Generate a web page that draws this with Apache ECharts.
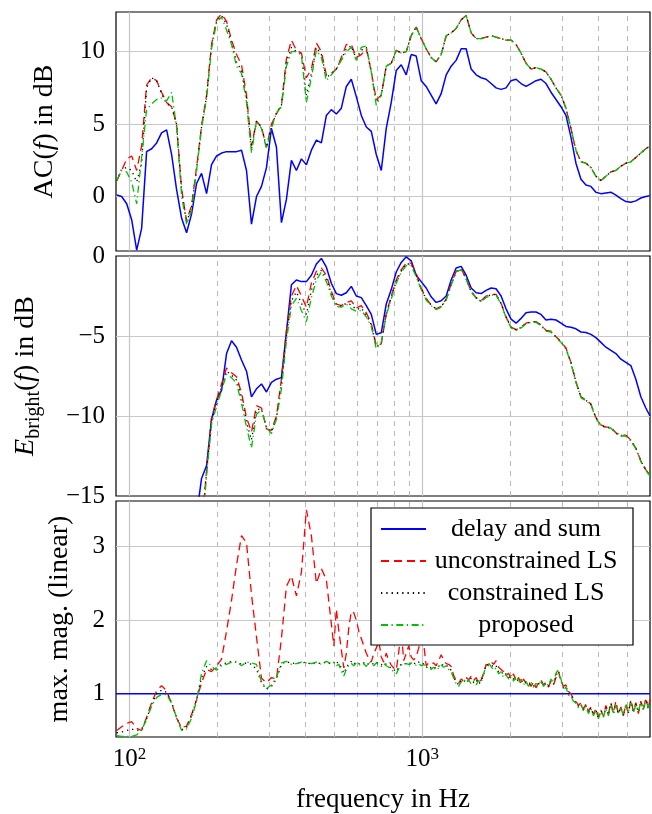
<!DOCTYPE html>
<html>
<head>
<meta charset="utf-8">
<script src="https://cdn.jsdelivr.net/npm/echarts@6.0.0/dist/echarts.min.js"></script>
<style>
html, body { margin: 0; padding: 0; background: #fff; }
#chart { width: 652px; height: 814px; }
</style>
</head>
<body>
<div id="chart"></div>
<script>
// frequency grid (Hz) shared by the AC and E_bright panels
var freq = [90.5, 94.1, 97.9, 101.8, 105.9, 110.1, 114.5, 119.1, 123.9, 128.8,
  134.0, 139.4, 144.9, 150.8, 156.8, 163.1, 169.6, 176.4, 183.5, 190.8,
  198.5, 206.4, 214.7, 223.3, 232.2, 241.5, 251.2, 261.2, 271.7, 282.6,
  293.9, 305.6, 317.9, 330.6, 343.8, 357.6, 371.9, 386.8, 402.3, 418.4,
  435.1, 452.6, 470.7, 489.5, 509.1, 529.5, 550.7, 572.8, 595.7, 619.6,
  644.4, 670.2, 697.0, 724.9, 753.9, 784.1, 815.5, 848.1, 882.1, 917.4,
  954.1, 992.3, 1032, 1073, 1116, 1161, 1208, 1256, 1306, 1359,
  1413, 1470, 1529, 1590, 1653, 1720, 1788, 1860, 1934, 2012,
  2093, 2176, 2263, 2354, 2448, 2546, 2648, 2754, 2865, 2979,
  3098, 3222, 3351, 3486, 3625, 3770, 3921, 4078, 4242, 4411,
  4588, 4772, 4963, 5161, 5368, 5583, 5806, 6000];

// panel 1: AC(f) in dB
var acDelaySum = [0.1, 0.0, -0.5, -1.6, -3.7, -2.2, 3.1, 3.3, 3.7, 4.4,
  4.6, 2.9, 0.5, -1.5, -2.5, -1.2, 0.9, 1.6, 0.2, 2.2,
  2.8, 3.0, 3.1, 3.1, 3.1, 3.2, 1.8, -1.9, 0.0, 0.7,
  2.0, 4.7, 3.4, -1.8, -0.2, 2.5, 1.8, 2.6, 2.2, 3.2,
  3.9, 3.7, 5.6, 6.0, 5.7, 6.1, 7.6, 8.1, 6.9, 5.6,
  4.8, 4.5, 2.9, 1.8, 4.7, 6.5, 8.7, 9.1, 8.4, 9.8,
  9.7, 8.0, 7.6, 7.0, 6.4, 7.1, 8.4, 9.0, 9.4, 10.2,
  10.2, 8.8, 8.4, 8.2, 8.1, 7.8, 7.5, 7.4, 7.5, 8.0,
  8.1, 7.8, 7.6, 7.8, 8.0, 8.1, 7.8, 7.2, 6.7, 6.2,
  5.6, 4.1, 2.3, 1.2, 0.8, 0.7, 0.3, 0.2, 0.25, 0.3,
  0.1, -0.15, -0.35, -0.4, -0.3, -0.1, 0.0, 0.05];
var acUnconstrained = [1.1, 1.8, 2.6, 2.8, 1.8, 3.5, 7.7, 8.2, 8.0, 7.2,
  6.5, 6.2, 5.0, 0.5, -1.7, -0.6, 2.0, 4.9, 7.0, 10.5,
  12.2, 12.6, 12.1, 10.8, 9.8, 9.1, 7.0, 3.5, 5.2, 4.8,
  3.4, 5.0, 5.7, 6.3, 9.5, 10.8, 10.1, 9.9, 8.2, 8.8,
  10.6, 10.0, 8.4, 8.5, 8.8, 9.6, 10.5, 10.5, 9.6, 9.8,
  10.2, 8.6, 6.7, 7.0, 9.0, 9.2, 10.1, 9.9, 10.0, 11.1,
  11.7, 10.9, 10.2, 9.6, 9.3, 9.8, 11.1, 11.3, 11.6, 12.2,
  12.5, 11.3, 10.9, 10.9, 11.0, 11.1, 11.0, 10.9, 10.8, 10.8,
  10.5, 9.9, 9.2, 8.8, 8.9, 8.8, 8.6, 8.1, 7.5, 7.0,
  6.1, 4.7, 3.2, 2.4, 2.3, 2.0, 1.4, 1.1, 1.4, 1.7,
  1.8, 2.1, 2.3, 2.4, 2.7, 3.0, 3.3, 3.5];
var acConstrained = [1.1, 1.9, 2.0, 1.8, 1.0, 2.3, 7.5, 8.2, 8.0, 7.1,
  6.4, 6.2, 5.0, 0.4, -1.8, -0.7, 1.9, 4.8, 6.9, 10.4,
  12.1, 12.5, 11.9, 10.6, 9.3, 8.7, 6.8, 3.3, 5.2, 4.8,
  3.4, 4.8, 5.8, 6.3, 9.3, 10.3, 10.0, 9.8, 7.0, 8.5,
  10.3, 9.8, 8.2, 8.5, 8.8, 9.5, 10.2, 10.4, 9.5, 10.1,
  10.3, 8.6, 6.5, 7.0, 9.0, 9.2, 10.1, 9.9, 10.0, 11.1,
  11.7, 10.9, 10.2, 9.6, 9.3, 9.8, 11.1, 11.3, 11.6, 12.2,
  12.5, 11.3, 10.9, 10.9, 11.0, 11.1, 11.0, 10.9, 10.8, 10.8,
  10.5, 9.9, 9.2, 8.8, 8.9, 8.8, 8.6, 8.1, 7.5, 7.0,
  6.1, 4.7, 3.2, 2.4, 2.3, 2.0, 1.4, 1.1, 1.4, 1.7,
  1.8, 2.1, 2.3, 2.4, 2.7, 3.0, 3.3, 3.5];
var acProposed = [1.1, 1.8, 1.7, 1.0, -0.5, 2.7, 6.0, 6.4, 6.7, 6.8,
  6.6, 7.2, 4.8, 0.0, -1.9, -1.0, 1.8, 4.7, 6.8, 10.2,
  12.0, 12.4, 11.5, 10.5, 9.0, 8.5, 6.5, 3.0, 5.2, 4.7,
  3.3, 4.7, 5.8, 6.2, 9.0, 10.0, 10.0, 9.8, 6.5, 8.2,
  10.1, 9.6, 8.0, 8.4, 8.8, 9.4, 10.0, 10.3, 9.4, 10.3,
  10.4, 8.6, 6.3, 7.0, 9.0, 9.2, 10.1, 9.9, 10.0, 11.1,
  11.7, 10.9, 10.2, 9.6, 9.3, 9.8, 11.1, 11.3, 11.6, 12.2,
  12.5, 11.3, 10.9, 10.9, 11.0, 11.1, 11.0, 10.9, 10.8, 10.8,
  10.5, 9.9, 9.2, 8.8, 8.9, 8.8, 8.6, 8.1, 7.5, 7.0,
  6.1, 4.7, 3.2, 2.4, 2.3, 2.0, 1.4, 1.1, 1.4, 1.7,
  1.8, 2.1, 2.3, 2.4, 2.7, 3.0, 3.3, 3.5];

// panel 2: E_bright(f) in dB (null = below the plotted range)
var ebDelaySum = [null, null, null, null, null, null, null, null, null, null,
  null, null, null, null, null, null, -16.2, -13.9, -13.1, -10.2,
  -9.0, -8.4, -6.1, -5.3, -5.7, -6.5, -7.2, -8.8, -8.3, -8.0,
  -8.5, -7.9, -7.7, -7.6, -4.75, -1.8, -1.5, -1.6, -1.6, -1.2,
  -0.5, -0.15, -0.7, -1.7, -2.35, -2.45, -2.3, -1.9, -2.5, -2.6,
  -3.1, -3.65, -4.9, -4.8, -3.0, -2.1, -1.0, -0.4, -0.05, -0.3,
  -1.2, -1.6, -2.0, -2.55, -2.9, -2.8, -2.5, -1.5, -0.75, -0.65,
  -1.2, -2.0, -2.3, -2.35, -2.15, -2.0, -2.05, -2.5, -3.3, -3.95,
  -4.2, -3.9, -3.55, -3.5, -3.5, -3.65, -4.0, -3.95, -4.0, -4.2,
  -4.4, -4.45, -4.55, -4.75, -4.78, -4.9, -5.1, -5.4, -5.7, -5.9,
  -6.1, -6.45, -6.65, -6.85, -7.7, -8.8, -9.5, -10.0];
var ebUnconstrained = [null, null, null, null, null, null, null, null, null, null,
  null, null, null, null, null, null, null, -17.0, -13.4, -10.1,
  -9.0, -8.0, -7.0, -7.3, -7.55, -8.55, -10.1, -11.0, -9.35, -9.5,
  -10.8, -10.9, -10.0, -7.7, -4.7, -2.5, -1.85, -2.5, -3.2, -1.7,
  -0.95, -0.75, -1.2, -2.2, -3.0, -3.1, -2.9, -2.8, -3.25, -3.1,
  -3.55, -4.2, -5.6, -5.5, -3.6, -2.5, -1.5, -0.85, -0.45, -0.45,
  -1.1, -2.0, -2.65, -3.05, -3.3, -3.15, -2.7, -1.75, -0.95, -0.8,
  -1.4, -2.2, -2.6, -2.8, -2.5, -2.4, -2.4, -2.95, -3.8, -4.45,
  -4.6, -4.45, -4.2, -4.1, -4.1, -4.3, -4.65, -4.7, -5.05, -5.35,
  -5.75, -6.65, -7.85, -8.8, -9.0, -9.25, -10.1, -10.55, -10.7, -10.7,
  -11.05, -11.2, -11.2, -11.5, -12.0, -12.8, -13.35, -13.7];
var ebConstrained = [null, null, null, null, null, null, null, null, null, null,
  null, null, null, null, null, null, null, -17.2, -13.5, -10.3,
  -9.2, -8.2, -7.2, -7.45, -7.75, -8.85, -10.4, -11.5, -9.6, -9.55,
  -10.75, -11.0, -10.1, -8.0, -5.0, -2.8, -2.25, -2.95, -3.65, -2.15,
  -1.2, -0.9, -1.4, -2.35, -3.05, -3.15, -2.95, -3.05, -3.35, -3.25,
  -3.7, -4.3, -5.7, -5.45, -3.65, -2.6, -1.6, -0.95, -0.5, -0.5,
  -1.2, -2.05, -2.7, -3.07, -3.32, -3.17, -2.72, -1.8, -0.97, -0.82,
  -1.42, -2.22, -2.62, -2.82, -2.55, -2.42, -2.42, -2.97, -3.82, -4.47,
  -4.62, -4.47, -4.22, -4.12, -4.12, -4.32, -4.67, -4.72, -5.07, -5.37,
  -5.77, -6.67, -7.87, -8.82, -9.02, -9.27, -10.12, -10.57, -10.72, -10.72,
  -11.07, -11.22, -11.22, -11.52, -12.02, -12.82, -13.37, -13.72];
var ebProposed = [null, null, null, null, null, null, null, null, null, null,
  null, null, null, null, null, null, null, -17.5, -13.7, -10.5,
  -9.4, -8.4, -7.4, -7.6, -7.95, -9.2, -10.7, -12.0, -9.9, -9.6,
  -10.7, -11.1, -10.2, -8.3, -5.3, -3.1, -2.65, -3.4, -4.1, -2.6,
  -1.5, -1.0, -1.6, -2.5, -3.15, -3.2, -3.0, -3.3, -3.45, -3.4,
  -3.8, -4.4, -5.8, -5.4, -3.7, -2.7, -1.7, -1.0, -0.6, -0.6,
  -1.3, -2.1, -2.75, -3.1, -3.35, -3.2, -2.75, -1.85, -1.0, -0.85,
  -1.45, -2.25, -2.65, -2.85, -2.6, -2.45, -2.45, -3.0, -3.85, -4.5,
  -4.65, -4.5, -4.25, -4.15, -4.15, -4.35, -4.7, -4.75, -5.1, -5.4,
  -5.8, -6.7, -7.9, -8.85, -9.05, -9.3, -10.15, -10.6, -10.75, -10.75,
  -11.1, -11.25, -11.25, -11.55, -12.05, -12.85, -13.4, -13.75];

// panel 3: max. magnitude (linear), finer grid above ~490 Hz
var freq3 = [90.5, 94.1, 97.9, 101.8, 105.9, 110.1, 114.5, 119.1, 123.9, 128.8,
  134.0, 139.4, 144.9, 150.8, 156.8, 163.1, 169.6, 176.4, 183.5, 190.8,
  198.5, 206.4, 214.7, 223.3, 232.2, 241.5, 251.2, 261.2, 271.7, 282.6,
  293.9, 305.6, 317.9, 330.6, 343.8, 357.6, 371.9, 386.8, 402.3, 418.4,
  435.1, 452.6, 470.7,
  489.5, 499.2, 509.1, 519.2, 529.5, 540.0, 550.7, 561.6, 572.8, 584.1,
  595.7, 607.5, 619.6, 631.9, 644.4, 657.2, 670.2, 683.5, 697.0, 710.9,
  724.9, 739.3, 753.9, 768.9, 784.1, 799.7, 815.5, 831.7, 848.1, 865.0,
  882.1, 899.6, 917.4, 935.6, 954.1, 973.0, 992.3, 1012, 1032, 1052,
  1073, 1094, 1116, 1138, 1161, 1184, 1208, 1232, 1256, 1281,
  1306, 1332, 1359, 1386, 1413, 1441, 1470, 1499, 1529, 1559,
  1590, 1621, 1653, 1686, 1720, 1754, 1788, 1824, 1860, 1897,
  1934, 1973, 2012, 2052, 2093, 2134, 2176, 2219, 2263, 2308,
  2354, 2401, 2448, 2497, 2546, 2597, 2648, 2701, 2754, 2809,
  2865, 2922, 2979, 3038, 3098, 3160, 3222, 3286, 3351, 3418,
  3486, 3555, 3625, 3697, 3770, 3845, 3921, 3999, 4078, 4159,
  4242, 4326, 4411, 4499, 4588, 4679, 4772, 4867, 4963, 5062,
  5161, 5264, 5368, 5475, 5583, 5694, 5806, 5922, 6000];
var mmUnconstrained = [0.50, 0.55, 0.60, 0.62, 0.53, 0.50, 0.68, 0.88, 1.04, 1.11,
  1.04, 0.87, 0.67, 0.54, 0.56, 0.72, 0.92, 1.15, 1.33, 1.30,
  1.38, 1.47, 1.85, 2.27, 2.75, 3.15, 3.05, 2.35, 1.77, 1.21,
  1.15, 1.22, 1.20, 1.75, 2.46, 2.60, 2.33, 2.65, 3.50, 3.15,
  2.50, 2.70, 2.55,
  1.95, 1.65, 2.15, 1.85, 1.60, 1.35, 1.55, 1.90, 2.12, 2.10,
  2.00, 1.85, 1.75, 1.65, 1.55, 1.48, 1.43, 1.55, 1.62, 1.72,
  1.50, 1.43, 1.55, 1.45, 1.39, 1.35, 1.32, 1.57, 1.85, 1.45,
  1.55, 1.65, 1.50, 1.46, 1.50, 1.62, 1.75, 1.68, 1.38, 1.42,
  1.40, 1.42, 1.38, 1.45, 1.53, 1.46, 1.41, 1.40, 1.37, 1.25,
  1.18, 1.14, 1.20, 1.17, 1.22, 1.19, 1.24, 1.18, 1.22, 1.14,
  1.19, 1.28, 1.40, 1.38, 1.43, 1.40, 1.45, 1.36, 1.33, 1.30,
  1.25, 1.28, 1.20, 1.27, 1.16, 1.22, 1.13, 1.20, 1.14, 1.18,
  1.10, 1.16, 1.08, 1.15, 1.19, 1.12, 1.16, 1.09, 1.17, 1.12,
  1.22, 1.30, 1.18, 1.10, 1.12, 1.03, 1.00, 0.93, 0.90, 0.84,
  0.88, 0.79, 0.86, 0.76, 0.82, 0.72, 0.80, 0.68, 0.78, 0.70,
  0.84, 0.72, 0.88, 0.74, 0.90, 0.72, 0.82, 0.70, 0.86, 0.74,
  0.92, 0.76, 0.88, 0.73, 0.90, 0.78, 0.94, 0.80, 0.92];
var mmConstrained = [0.47, 0.48, 0.50, 0.52, 0.50, 0.52, 0.66, 0.86, 1.00, 1.05,
  1.02, 0.88, 0.68, 0.51, 0.54, 0.70, 0.92, 1.22, 1.37, 1.33,
  1.35, 1.40, 1.42, 1.44, 1.43, 1.40, 1.42, 1.40, 1.33, 1.15,
  1.06, 1.10, 1.20, 1.40, 1.44, 1.41, 1.42, 1.42, 1.43, 1.40,
  1.42, 1.41, 1.43,
  1.40, 1.42, 1.45, 1.39, 1.36, 1.28, 1.35, 1.41, 1.44, 1.40,
  1.43, 1.41, 1.40, 1.42, 1.39, 1.41, 1.42, 1.40, 1.43, 1.41,
  1.39, 1.42, 1.40, 1.37, 1.35, 1.33, 1.30, 1.37, 1.40, 1.39,
  1.42, 1.41, 1.40, 1.42, 1.40, 1.43, 1.40, 1.41, 1.36, 1.38,
  1.35, 1.37, 1.34, 1.37, 1.41, 1.38, 1.39, 1.35, 1.32, 1.22,
  1.16, 1.12, 1.18, 1.16, 1.20, 1.16, 1.21, 1.15, 1.19, 1.13,
  1.17, 1.26, 1.39, 1.40, 1.40, 1.36, 1.38, 1.30, 1.31, 1.25,
  1.27, 1.22, 1.23, 1.20, 1.21, 1.17, 1.18, 1.14, 1.16, 1.12,
  1.14, 1.11, 1.12, 1.13, 1.17, 1.11, 1.14, 1.10, 1.18, 1.13,
  1.25, 1.31, 1.19, 1.08, 1.10, 1.00, 0.98, 0.92, 0.88, 0.83,
  0.86, 0.78, 0.84, 0.75, 0.81, 0.71, 0.78, 0.67, 0.77, 0.69,
  0.82, 0.71, 0.87, 0.73, 0.86, 0.73, 0.81, 0.70, 0.85, 0.74,
  0.90, 0.75, 0.86, 0.75, 0.89, 0.78, 0.93, 0.80, 0.91];
var mmProposed = [0.43, 0.42, 0.42, 0.42, 0.44, 0.51, 0.65, 0.83, 0.95, 0.99,
  0.99, 0.87, 0.68, 0.50, 0.52, 0.67, 0.90, 1.28, 1.45, 1.37,
  1.32, 1.38, 1.40, 1.43, 1.44, 1.38, 1.43, 1.42, 1.40, 1.16,
  1.07, 1.12, 1.22, 1.42, 1.44, 1.40, 1.41, 1.43, 1.42, 1.41,
  1.43, 1.40, 1.44,
  1.41, 1.43, 1.38, 1.40, 1.31, 1.24, 1.33, 1.39, 1.41, 1.38,
  1.42, 1.40, 1.38, 1.41, 1.37, 1.43, 1.40, 1.38, 1.42, 1.39,
  1.37, 1.41, 1.38, 1.36, 1.33, 1.30, 1.27, 1.34, 1.39, 1.40,
  1.41, 1.40, 1.42, 1.40, 1.39, 1.41, 1.38, 1.40, 1.35, 1.37,
  1.33, 1.36, 1.32, 1.35, 1.39, 1.36, 1.38, 1.33, 1.30, 1.21,
  1.14, 1.10, 1.16, 1.20, 1.15, 1.19, 1.13, 1.17, 1.12, 1.18,
  1.15, 1.27, 1.38, 1.42, 1.37, 1.32, 1.35, 1.27, 1.30, 1.22,
  1.26, 1.20, 1.25, 1.17, 1.24, 1.15, 1.20, 1.12, 1.17, 1.10,
  1.16, 1.09, 1.14, 1.12, 1.18, 1.10, 1.15, 1.11, 1.20, 1.15,
  1.28, 1.33, 1.20, 1.05, 1.09, 0.98, 0.96, 0.90, 0.87, 0.81,
  0.85, 0.77, 0.83, 0.73, 0.80, 0.70, 0.77, 0.66, 0.76, 0.68,
  0.80, 0.70, 0.86, 0.72, 0.84, 0.74, 0.80, 0.71, 0.84, 0.75,
  0.88, 0.74, 0.85, 0.76, 0.88, 0.79, 0.92, 0.81, 0.90];
var freqFlat = [90, 6000];
var mmDelaySum = [1, 1];

// axis ticks / grid positions
var majorFreqs = [100, 1000];
var minorFreqs = [200, 300, 400, 500, 600, 700, 800, 900, 2000, 3000, 4000, 5000];
var acTicks = [0, 5, 10];
var ebTicks = [-15, -10, -5, 0];
var mmTicks = [1, 2, 3];

var names = ['delay and sum', 'unconstrained LS', 'constrained LS', 'proposed'];
var FONT = 'Liberation Serif';
var styles = [
  {color: '#0000ff', width: 1.5, type: 'solid'},
  {color: '#ff0000', width: 1.3, type: [8, 5]},
  {color: '#000000', width: 1.3, type: [1.3, 4]},
  {color: '#00c000', width: 1.3, type: [7, 3.5, 1.3, 3.5]}
];

function pairs(xs, ys) {
  return xs.map(function (x, i) { return [x, ys[i]]; });
}

function line(k, panel, xs, ys) {
  return {
    name: names[k], type: 'line', xAxisIndex: panel, yAxisIndex: panel,
    symbol: 'none', z: 10 + k, animation: false, connectNulls: false,
    lineStyle: styles[k], itemStyle: {color: styles[k].color},
    data: pairs(xs, ys)
  };
}

function gridLines(panel, hVals) {
  var d = [];
  majorFreqs.forEach(function (f) {
    d.push({xAxis: f, lineStyle: {color: '#c4c4c4', width: 1.2, type: 'solid'}});
  });
  minorFreqs.forEach(function (f) {
    d.push({xAxis: f, lineStyle: {color: '#b8b8b8', width: 1, type: [5, 5]}});
  });
  hVals.forEach(function (v) {
    d.push({yAxis: v, lineStyle: {color: '#c8c8c8', width: 1, type: 'solid'}});
  });
  return {
    type: 'line', xAxisIndex: panel, yAxisIndex: panel, data: [], z: 1, silent: true,
    markLine: {silent: true, symbol: ['none', 'none'], z: 1, animation: false,
      label: {show: false}, emphasis: {disabled: true}, data: d}
  };
}

var labelStyle = {color: '#000', fontFamily: FONT, fontSize: 25, margin: 11};
function minus(v) { return String(v).replace('-', '\u2212'); }

var grids = [0, 1, 2].map(function (i) {
  return {left: 116, top: [12, 256, 501][i], width: 534, height: [239, 240, 240][i],
    show: true, borderColor: '#000', borderWidth: 1.2, backgroundColor: 'transparent'};
});

var xAxes = [0, 1, 2].map(function (i) {
  return {
    type: 'log', logBase: 10, gridIndex: i, min: 90, max: 6000,
    axisLine: {show: false}, axisTick: {show: false}, splitLine: {show: false},
    name: i === 2 ? 'frequency in Hz' : '', nameLocation: 'middle', nameGap: 49,
    nameTextStyle: {color: '#000', fontFamily: FONT, fontSize: 27},
    axisLabel: {
      show: i === 2, customValues: majorFreqs, margin: 9,
      formatter: function (v) { return '{b|10}{s|' + Math.round(Math.log(v) / Math.LN10) + '}'; },
      rich: {
        b: {fontFamily: FONT, fontSize: 25, color: '#000', lineHeight: 26},
        s: {fontFamily: FONT, fontSize: 17, color: '#000', lineHeight: 17, verticalAlign: 'top'}
      }
    }
  };
});

var yAxes = [
  {type: 'value', gridIndex: 0, min: -3.76, max: 12.74,
    axisLine: {show: false}, axisTick: {show: false}, splitLine: {show: false},
    axisLabel: Object.assign({customValues: acTicks, formatter: minus}, labelStyle),
    name: '{n|AC(}{i|f}{n|) in dB}', nameLocation: 'middle', nameGap: 57,
    nameTextStyle: {rich: {
      n: {fontFamily: FONT, fontSize: 28, color: '#000'},
      i: {fontFamily: FONT, fontSize: 28, color: '#000', fontStyle: 'italic'}}}},
  {type: 'value', gridIndex: 1, min: -15, max: 0,
    axisLine: {show: false}, axisTick: {show: false}, splitLine: {show: false},
    axisLabel: Object.assign({customValues: ebTicks, formatter: minus}, labelStyle),
    name: '{i|E}{s|bright}{n|(}{i|f}{n|) in dB}', nameLocation: 'middle', nameGap: 72,
    nameTextStyle: {rich: {
      n: {fontFamily: FONT, fontSize: 28, color: '#000', lineHeight: 32, verticalAlign: 'top'},
      i: {fontFamily: FONT, fontSize: 28, color: '#000', fontStyle: 'italic', lineHeight: 32, verticalAlign: 'top'},
      s: {fontFamily: FONT, fontSize: 20, color: '#000', lineHeight: 32, verticalAlign: 'bottom'}}}},
  {type: 'value', gridIndex: 2, min: 0.412, max: 3.62,
    axisLine: {show: false}, axisTick: {show: false}, splitLine: {show: false},
    axisLabel: Object.assign({customValues: mmTicks, formatter: minus}, labelStyle),
    name: 'max. mag. (linear)', nameLocation: 'middle', nameGap: 42,
    nameTextStyle: {color: '#000', fontFamily: FONT, fontSize: 28}}
];

var series = [
  gridLines(0, [acTicks[0], acTicks[1], acTicks[2]]),
  gridLines(1, [ebTicks[1], ebTicks[2]]),
  gridLines(2, mmTicks),
  line(0, 0, freq, acDelaySum),
  line(1, 0, freq, acUnconstrained),
  line(2, 0, freq, acConstrained),
  line(3, 0, freq, acProposed),
  line(0, 1, freq, ebDelaySum),
  line(1, 1, freq, ebUnconstrained),
  line(2, 1, freq, ebConstrained),
  line(3, 1, freq, ebProposed),
  line(0, 2, freqFlat, mmDelaySum),
  line(1, 2, freq3, mmUnconstrained),
  line(2, 2, freq3, mmConstrained),
  line(3, 2, freq3, mmProposed)
];

var chart = echarts.init(document.getElementById('chart'));
chart.setOption({
  animation: false,
  backgroundColor: '#fff',
  grid: grids,
  xAxis: xAxes,
  yAxis: yAxes,
  legend: {
    data: names, orient: 'vertical', left: 371, top: 508,
    padding: [8, 12, 7, 9], itemWidth: 45, itemHeight: 14, itemGap: 6,
    backgroundColor: '#fff', borderColor: '#000', borderWidth: 1.2, borderRadius: 0,
    selectedMode: false, z: 20,
    itemStyle: {opacity: 0, borderWidth: 0},
    formatter: function (n) { return '{t|' + n + '}'; },
    textStyle: {rich: {t: {width: 190, align: 'center', fontFamily: FONT, fontSize: 26,
      lineHeight: 24, color: '#000'}}}
  },
  series: series
});
</script>
</body>
</html>
